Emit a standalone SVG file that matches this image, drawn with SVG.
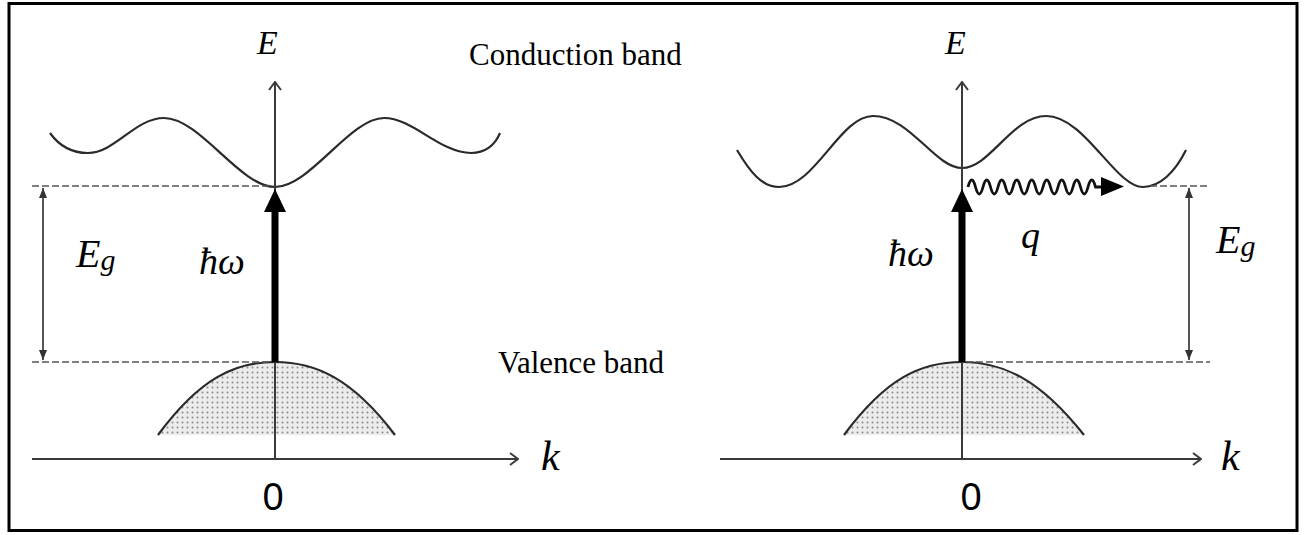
<svg xmlns="http://www.w3.org/2000/svg" width="1306" height="535" viewBox="0 0 1306 535">
<style>
.axis{fill:none;stroke:#3a3a3a;stroke-width:2}
.band{fill:none;stroke:#2a2a2a;stroke-width:2.2}
.dash{fill:none;stroke:#555;stroke-width:1.6;stroke-dasharray:7 3}
.gap{fill:none;stroke:#444;stroke-width:1.8}
.math{font-family:"Liberation Serif",serif;font-style:italic;fill:#000}
.lbl{font-family:"Liberation Serif",serif;font-size:31px;fill:#000}
.zero{font-family:"Noto Sans","Open Sans",sans-serif;font-size:38px;fill:#000;text-anchor:middle}
</style>
<defs>
<marker id="open" viewBox="0 0 10 14" refX="9" refY="7" markerWidth="10" markerHeight="14" markerUnits="userSpaceOnUse" orient="auto"><path d="M1,1 L9,7 L1,13" fill="none" stroke="#3a3a3a" stroke-width="2"/></marker>
<marker id="small" viewBox="0 0 10 8" refX="10" refY="4" markerWidth="10" markerHeight="8" markerUnits="userSpaceOnUse" orient="auto-start-reverse"><path d="M0,0 L10,4 L0,8 z" fill="#333"/></marker>
<pattern id="stip" width="5" height="5" patternUnits="userSpaceOnUse"><rect width="5" height="5" fill="#ececec"/><circle cx="2.5" cy="2.5" r="1" fill="#8a8a8a"/></pattern>
</defs>
<rect id="frame" x="9" y="3.5" width="1288" height="527" fill="#fff" stroke="#000" stroke-width="3"/>

<g id="left-panel">
  <g id="left-valence"><path d="M158,435 C200,378 235,362 275,362 C315,362 352,378 395,435 Z" fill="url(#stip)" stroke="none"/><path d="M158,435 C200,378 235,362 275,362 C315,362 352,378 395,435" class="band"/></g>
  <path id="left-conduction" class="band" d="M50,133 C60,147 72,153 88,153 C115,153 135,118 164,118 C200,118 240,187 275,187 C310,187 350,118 384,118 C413,118 440,153 471,153 C485,153 495,145 500,133"/>
  <rect x="241" y="460" width="52" height="32" fill="#fff"/>
  <text class="math" x="257" y="54" font-size="34">E</text>
  <text class="math" x="76" y="267" font-size="40">E<tspan font-size="30" dy="3">g</tspan></text>
  <text class="math" x="199" y="274" font-size="38">ħω</text>
  <text class="math" x="541" y="470" font-size="42">k</text>
  <text class="zero" x="273" y="510">0</text>
</g>

<g id="right-panel">
  <g id="right-valence"><path d="M844,435 C886,378 921,362 962,362 C1002,362 1039,378 1084,435 Z" fill="url(#stip)" stroke="none"/><path d="M844,435 C886,378 921,362 962,362 C1002,362 1039,378 1084,435" class="band"/></g>
  <path id="right-conduction" class="band" d="M737,150 C750,172 762,187 779,187 C815,187 840,116 873,116 C910,116 935,168 962,168 C990,168 1012,116 1046,116 C1085,116 1115,187 1143,187 C1160,187 1175,172 1186,150"/>
  <rect x="928" y="460" width="52" height="32" fill="#fff"/>
  <text class="math" x="945" y="54" font-size="34">E</text>
  <text class="math" x="1216" y="253" font-size="40">E<tspan font-size="30" dy="3">g</tspan></text>
  <text class="math" x="888" y="266" font-size="38">ħω</text>
  <text class="math" x="1021" y="248" font-size="38">q</text>
  <text class="math" x="1221" y="470" font-size="42">k</text>
  <text class="zero" x="971" y="510">0</text>
</g>

<g id="band-labels">
  <text class="lbl" x="469" y="65">Conduction band</text>
  <text class="lbl" x="498" y="373">Valence band</text>
</g>

<g id="connectors">
  <line class="axis" x1="32" y1="459" x2="518" y2="459" marker-end="url(#open)"/>
  <line class="axis" x1="275" y1="459" x2="275" y2="82" marker-end="url(#open)"/>
  <line class="axis" x1="720" y1="459" x2="1201" y2="459" marker-end="url(#open)"/>
  <line class="axis" x1="962" y1="459" x2="962" y2="82" marker-end="url(#open)"/>
  <line class="dash" x1="32" y1="186" x2="272" y2="186"/>
  <line class="dash" x1="32" y1="362" x2="272" y2="362"/>
  <line class="dash" x1="1150" y1="186" x2="1210" y2="186"/>
  <line class="dash" x1="966" y1="362" x2="1210" y2="362"/>
  <line class="gap" x1="43" y1="188" x2="43" y2="360" marker-start="url(#small)" marker-end="url(#small)"/>
  <line class="gap" x1="1189" y1="188" x2="1189" y2="360" marker-start="url(#small)" marker-end="url(#small)"/>
  <g id="photon-left"><rect x="271.5" y="210" width="7" height="152" fill="#000"/><path d="M264,212 L286,212 L275,189 Z" fill="#000"/></g>
  <g id="photon-right"><rect x="958.5" y="210" width="7" height="152" fill="#000"/><path d="M951,212 L973,212 L962,189 Z" fill="#000"/></g>
  <g id="phonon"><path d="M968,187 q3.75,-14 7.5,0 t7.5,0 t7.5,0 t7.5,0 t7.5,0 t7.5,0 t7.5,0 t7.5,0 t7.5,0 t7.5,0 t7.5,0 t7.5,0 t7.5,0 t7.5,0 t7.5,0 t7.5,0 t7.5,0 L1104,187" fill="none" stroke="#111" stroke-width="2.8"/><path d="M1101,177 L1124,186.5 L1101,196 Z" fill="#000"/></g>
</g>
</svg>
